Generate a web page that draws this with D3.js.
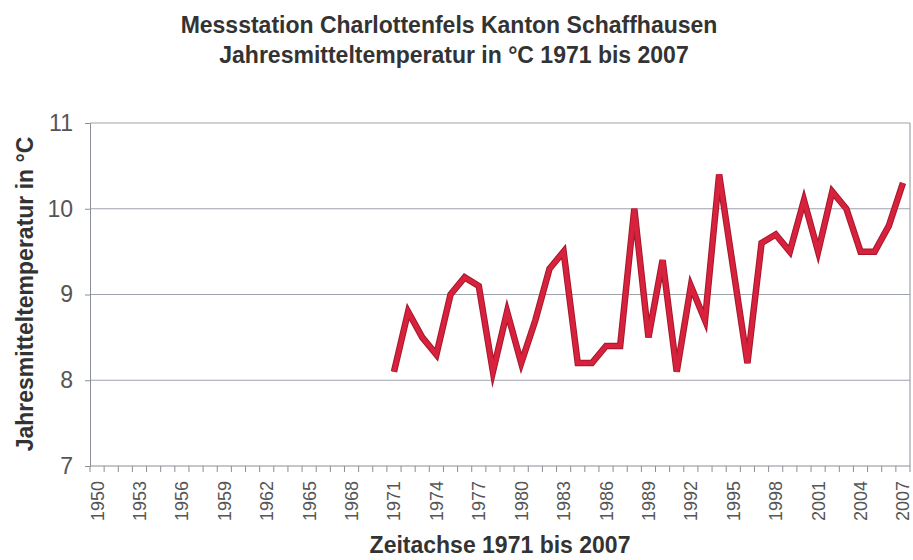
<!DOCTYPE html>
<html>
<head>
<meta charset="utf-8">
<script src="https://cdn.jsdelivr.net/npm/d3@7"></script>
<style>
  body { margin: 0; background: #fff; }
  svg { font-family: "Liberation Sans", Arial, sans-serif; }
</style>
</head>
<body>
<script>
  "use strict";

  var years = d3.range(1950, 2008);
  var dataYears = d3.range(1971, 2008);
  var temps = [8.1, 8.8, 8.5, 8.3, 9.0, 9.2, 9.1, 8.1, 8.8, 8.2,
               8.7, 9.3, 9.5, 8.2, 8.2, 8.4, 8.4, 10.0, 8.5, 9.4,
               8.1, 9.1, 8.7, 10.4, 9.3, 8.2, 9.6, 9.7, 9.5, 10.1,
               9.5, 10.2, 10.0, 9.5, 9.5, 9.8, 10.3];
  var yTicks = [7, 8, 9, 10, 11];
  var xLabels = years.filter(function(y){ return (y - 1950) % 3 === 0; });

  var W = 913, H = 560;
  var plotL = 90, plotR = 910, plotT = 123, plotB = 466;

  var svg = d3.select("body").append("svg")
      .attr("width", W).attr("height", H);

  var x = d3.scaleBand().domain(years).range([plotL, plotR]);
  var y = d3.scaleLinear().domain([7, 11]).range([plotB, plotT]);

  // gridlines
  svg.append("g").selectAll("line").data(yTicks.filter(function(d){ return d > 7; }))
    .enter().append("line")
    .attr("x1", plotL).attr("x2", plotR)
    .attr("y1", function(d){ return y(d); }).attr("y2", function(d){ return y(d); })
    .attr("stroke", "#9ea2aa").attr("stroke-width", 1.2);

  // right border
  svg.append("line")
    .attr("x1", plotR).attr("x2", plotR).attr("y1", plotT).attr("y2", plotB)
    .attr("stroke", "#9ea2aa").attr("stroke-width", 1.2);

  // y axis
  var yAxis = svg.append("g")
    .attr("transform", "translate(" + plotL + ",0)")
    .call(d3.axisLeft(y).tickValues(yTicks).tickFormat(d3.format("d"))
      .tickSize(5).tickPadding(12));
  yAxis.select(".domain").attr("stroke", "#8a8e96");
  yAxis.selectAll(".tick line").attr("stroke", "#8a8e96");
  yAxis.selectAll("text").attr("font-size", 23).attr("fill", "#555")
    .attr("font-family", "Liberation Sans, Arial, sans-serif");

  // x axis: ticks at category boundaries
  var xAxis = svg.append("g").attr("transform", "translate(0," + plotB + ")");
  xAxis.append("line").attr("x1", plotL).attr("x2", plotR)
    .attr("stroke", "#8a8e96");
  xAxis.selectAll("line.tk").data(years.concat([2008])).enter().append("line")
    .attr("class", "tk")
    .attr("x1", function(d){ return d === 2008 ? plotR : x(d); })
    .attr("x2", function(d){ return d === 2008 ? plotR : x(d); })
    .attr("y1", 0).attr("y2", 6)
    .attr("stroke", "#8a8e96");
  xAxis.selectAll("text").data(xLabels).enter().append("text")
    .attr("transform", function(d){
      return "translate(" + (x(d) + x.bandwidth() / 2 + 6.5) + ",15) rotate(-90)";
    })
    .attr("text-anchor", "end")
    .attr("font-size", 18).attr("fill", "#555")
    .text(function(d){ return d; });

  // line
  var line = d3.line()
    .x(function(d, i){ return x(dataYears[i]) + x.bandwidth() / 2; })
    .y(function(d){ return y(d); });

  svg.append("path").datum(temps)
    .attr("d", line)
    .attr("fill", "none")
    .attr("stroke", "#a3182c")
    .attr("stroke-width", 6.5)
    .attr("stroke-linejoin", "miter")
    .attr("stroke-miterlimit", 6);
  svg.append("path").datum(temps)
    .attr("d", line)
    .attr("fill", "none")
    .attr("stroke", "#d8223d")
    .attr("stroke-width", 4.5)
    .attr("stroke-linejoin", "miter")
    .attr("stroke-miterlimit", 6);

  // titles
  svg.append("text").attr("x", 449).attr("y", 33)
    .attr("text-anchor", "middle").attr("font-size", 23).attr("font-weight", "bold")
    .attr("fill", "#333").text("Messstation Charlottenfels Kanton Schaffhausen");
  svg.append("text").attr("x", 454).attr("y", 63)
    .attr("text-anchor", "middle").attr("font-size", 23).attr("font-weight", "bold")
    .attr("fill", "#333").text("Jahresmitteltemperatur in °C 1971 bis 2007");

  svg.append("text")
    .attr("transform", "translate(33,294) rotate(-90)")
    .attr("text-anchor", "middle").attr("font-size", 23).attr("font-weight", "bold")
    .attr("fill", "#333").text("Jahresmitteltemperatur in °C");

  svg.append("text").attr("x", 500).attr("y", 553)
    .attr("text-anchor", "middle").attr("font-size", 23).attr("font-weight", "bold")
    .attr("fill", "#333").text("Zeitachse 1971 bis 2007");
</script>
</body>
</html>
